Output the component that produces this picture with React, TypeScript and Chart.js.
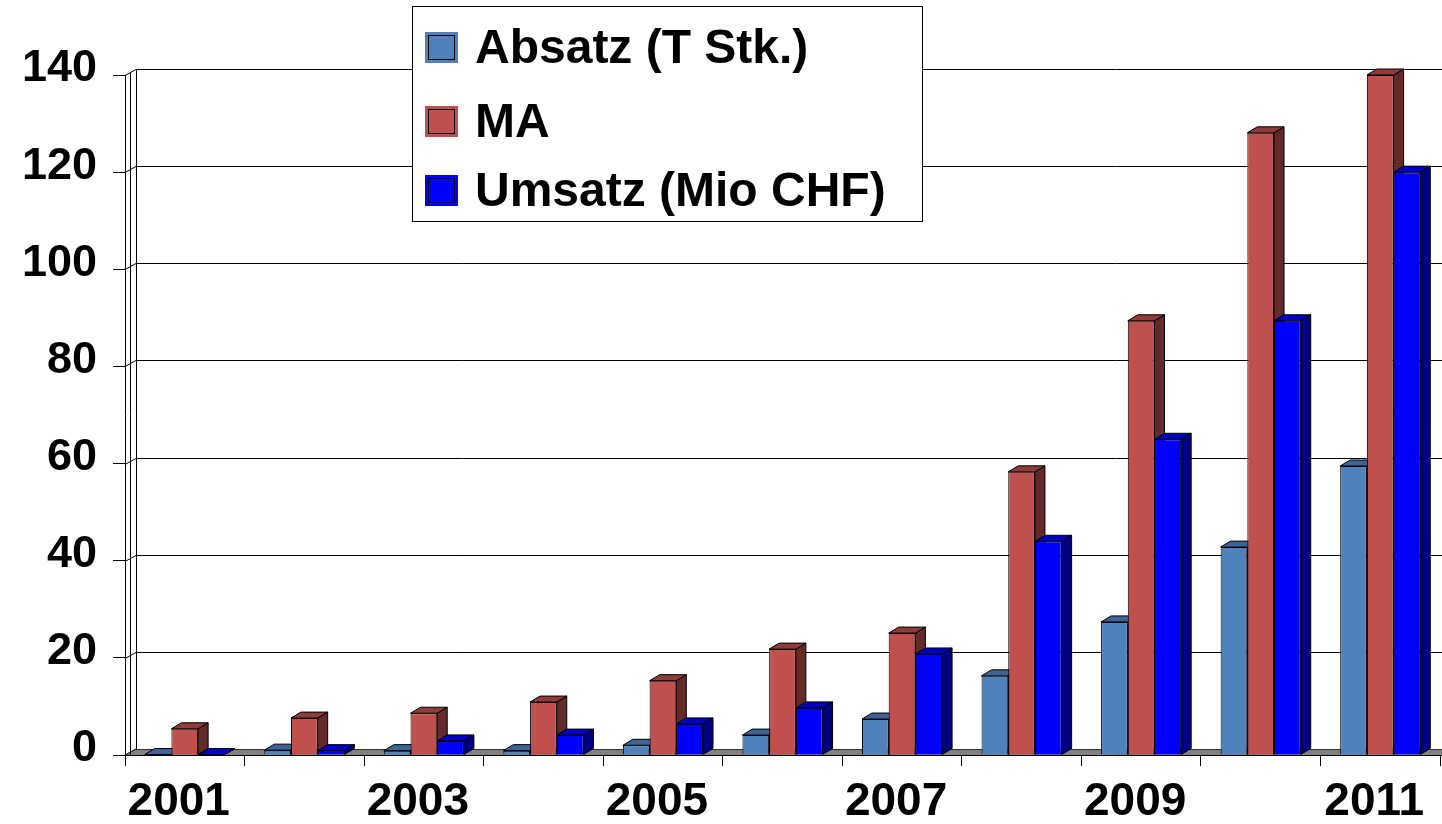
import React, { useEffect, useRef } from 'react';
import { Chart, registerables } from 'chart.js';

Chart.register(...registerables);

const categories = ['2001', '2002', '2003', '2004', '2005', '2006', '2007', '2008', '2009', '2010', '2011'];
const absatz = [0.1, 1.0, 0.9, 0.9, 2.0, 4.1, 7.4, 16.3, 27.4, 42.8, 59.5];
const ma = [5.4, 7.6, 8.6, 10.9, 15.3, 21.8, 25.1, 58.3, 89.4, 128.1, 140];
const umsatz = [0.1, 0.9, 2.9, 4.1, 6.4, 9.7, 20.8, 44, 65, 89.4, 120];
const seriesLabels = ['Absatz (T Stk.)', 'MA', 'Umsatz (Mio CHF)'];
const yMin = 0;
const yMax = 140;
const yStep = 20;

const FRONT = ['#4F81BD', '#C0504D', '#0000FF'];
const TOP = ['#3C6496', '#8E3B39', '#0000C4'];
const SIDE = ['#2C4A70', '#632A29', '#000080'];

const FONT = '"Liberation Sans", Arial, sans-serif';
const DX = 10;
const DY = -6;
const WDX = 11;
const WDY = -6;

const threeD = {
  id: 'threeD',
  beforeDatasetsDraw(chart: any) {
    const { ctx, chartArea, scales } = chart;
    const y = scales.y;
    const W = chart.width;
    const left = chartArea.left;
    const bottom = chartArea.bottom;
    ctx.save();
    ctx.lineWidth = 1;
    // floor
    ctx.fillStyle = '#808080';
    ctx.beginPath();
    ctx.moveTo(left, bottom);
    ctx.lineTo(left + WDX, bottom + WDY);
    ctx.lineTo(W, bottom + WDY);
    ctx.lineTo(W, bottom);
    ctx.closePath();
    ctx.fill();
    ctx.strokeStyle = '#333';
    ctx.beginPath();
    ctx.moveTo(left + WDX, bottom + WDY + 0.5);
    ctx.lineTo(W, bottom + WDY + 0.5);
    ctx.stroke();
    // back gridlines
    ctx.strokeStyle = '#000';
    for (let v = yMin + yStep; v <= yMax; v += yStep) {
      const py = Math.round(y.getPixelForValue(v)) + 0.5;
      ctx.beginPath();
      ctx.moveTo(left, py);
      ctx.lineTo(left + WDX, py + WDY);
      ctx.lineTo(W, py + WDY);
      ctx.stroke();
    }
    // wall
    const top = y.getPixelForValue(yMax);
    ctx.beginPath();
    ctx.moveTo(left + 5.5, top - 3);
    ctx.lineTo(left + 5.5, bottom);
    ctx.moveTo(left + WDX + 0.5, top + WDY);
    ctx.lineTo(left + WDX + 0.5, bottom + WDY);
    ctx.stroke();
    // floor front line
    ctx.strokeStyle = '#000';
    ctx.beginPath();
    ctx.moveTo(left, bottom + 0.5);
    ctx.lineTo(W, bottom + 0.5);
    ctx.moveTo(left, bottom);
    ctx.lineTo(left + WDX, bottom + WDY);
    ctx.stroke();
    // bar sides and tops
    chart.data.datasets.forEach((ds: any, i: number) => {
      const meta = chart.getDatasetMeta(i);
      meta.data.forEach((bar: any) => {
        const p = bar.getProps(['x', 'y', 'base', 'width'], true);
        const l = p.x - p.width / 2;
        const r = p.x + p.width / 2;
        const t = p.y;
        const b = p.base;
        ctx.strokeStyle = '#000';
        ctx.fillStyle = SIDE[i];
        ctx.beginPath();
        ctx.moveTo(r, t);
        ctx.lineTo(r + DX, t + DY);
        ctx.lineTo(r + DX, b + DY);
        ctx.lineTo(r, b);
        ctx.closePath();
        ctx.fill();
        ctx.stroke();
        ctx.fillStyle = TOP[i];
        ctx.beginPath();
        ctx.moveTo(l, t);
        ctx.lineTo(l + DX, t + DY);
        ctx.lineTo(r + DX, t + DY);
        ctx.lineTo(r, t);
        ctx.closePath();
        ctx.fill();
        ctx.stroke();
      });
    });
    ctx.restore();
  },
  afterDraw(chart: any) {
    const { ctx } = chart;
    ctx.save();
    ctx.fillStyle = '#fff';
    ctx.fillRect(412, 6, 510, 215);
    ctx.strokeStyle = '#000';
    ctx.lineWidth = 1;
    ctx.strokeRect(412.5, 6.5, 510, 215);
    const baselines = [63, 137, 206];
    chart.data.datasets.forEach((ds: any, i: number) => {
      const bl = baselines[i];
      ctx.fillStyle = FRONT[i];
      ctx.fillRect(425, bl - 31, 33, 31);
      ctx.strokeStyle = '#000';
      ctx.strokeRect(428.5, bl - 27.5, 26, 24);
      ctx.fillStyle = '#000';
      ctx.font = `bold 48px ${FONT}`;
      ctx.textBaseline = 'alphabetic';
      ctx.textAlign = 'left';
      ctx.fillText(ds.label, 475, bl);
    });
    ctx.restore();
  },
};

export default function App() {
  const ref = useRef<HTMLCanvasElement>(null);
  useEffect(() => {
    if (!ref.current) return;
    Chart.defaults.font.family = FONT;
    const chart = new Chart(ref.current, {
      type: 'bar',
      data: {
        labels: categories,
        datasets: [absatz, ma, umsatz].map((d, i) => ({
          label: seriesLabels[i],
          data: d,
          backgroundColor: FRONT[i],
          borderColor: '#000',
          borderWidth: 1,
          categoryPercentage: 0.67,
          barPercentage: 1,
        })),
      },
      options: {
        responsive: false,
        animation: false,
        events: [],
        layout: { padding: { top: 75, right: 2, left: 0, bottom: 0 } },
        plugins: { legend: { display: false }, tooltip: { enabled: false } },
        scales: {
          x: {
            offset: true,
            grid: { display: true, drawOnChartArea: false, drawTicks: true, tickLength: 11, color: '#000', offset: true },
            border: { display: false },
            ticks: {
              autoSkip: false,
              maxRotation: 0,
              padding: 9,
              labelOffset: -6,
              color: '#000',
              font: { size: 46, weight: 'bold', family: FONT },
              callback: (_v: any, idx: number) => (idx % 2 === 0 ? categories[idx] : ''),
            },
            afterFit: (s: any) => {
              s.height = 69;
            },
          },
          y: {
            min: yMin,
            max: yMax,
            grid: { display: true, drawOnChartArea: false, drawTicks: true, tickLength: 12, color: '#000' },
            border: { display: true, color: '#000' },
            ticks: {
              stepSize: yStep,
              padding: 16,
              labelOffset: -6,
              color: '#000',
              font: { size: 45, weight: 'bold', family: FONT },
            },
            afterFit: (s: any) => {
              s.width = 125;
            },
          },
        },
      },
      plugins: [threeD],
    });
    return () => chart.destroy();
  }, []);
  return (
    <div style={{ position: 'fixed', left: 0, top: 0, width: 1442, height: 824, background: '#fff' }}>
      <canvas ref={ref} width={1442} height={824} style={{ display: 'block' }} />
    </div>
  );
}
